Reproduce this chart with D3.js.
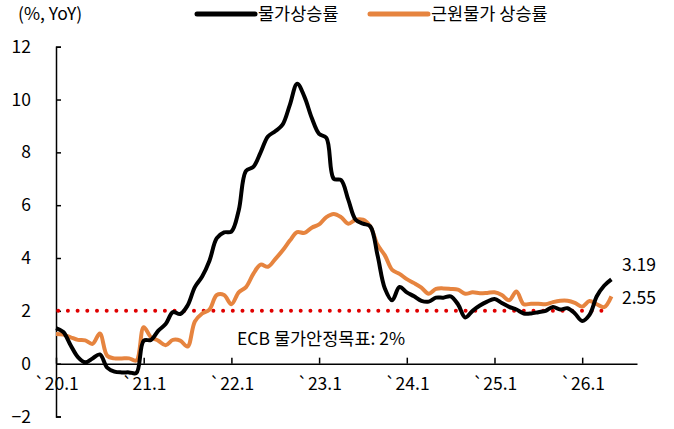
<!DOCTYPE html>
<html>
<head>
<meta charset="utf-8">
<script src="https://cdn.jsdelivr.net/npm/d3@7"></script>
<style>
	body { margin: 0; background: #fff; }
	text { font-family: "Noto Sans CJK KR", "Noto Sans", sans-serif; fill: #000; }
</style>
</head>
<body>
<div id="chart"></div>
<script>
//Monthly values from '20.1

var yearLabels = ["`20.1", "`21.1", "`22.1", "`23.1", "`24.1", "`25.1", "`26.1"];
var yTicks = [-2, 0, 2, 4, 6, 8, 10, 12];

var headline = [1.35, 1.2, 0.7, 0.25, 0.05, 0.2, 0.35, -0.15, -0.3, -0.33, -0.33, -0.35,
	0.87, 0.9, 1.25, 1.5, 1.95, 1.88, 2.2, 2.9, 3.3, 3.9, 4.75, 4.97,
	5.0, 5.8, 7.3, 7.45, 8.0, 8.6, 8.8, 9.05, 9.8, 10.6, 10.1, 9.3,
	8.7, 8.55, 7.0, 6.95, 6.2, 5.45, 5.3, 5.2, 4.1, 2.85, 2.4, 2.9,
	2.7, 2.55, 2.38, 2.35, 2.5, 2.5, 2.55, 2.25, 1.75, 2.0, 2.2, 2.35,
	2.45, 2.3, 2.15, 2.05, 1.9, 1.9, 1.95, 2.0, 2.15, 2.05, 2.1, 1.9,
	1.62, 1.85, 2.55, 2.95, 3.19];

var core = [1.12, 1.1, 1.0, 0.9, 0.88, 0.75, 1.14, 0.3, 0.2, 0.2, 0.2, 0.12,
	1.38, 1.0, 0.87, 0.7, 0.9, 0.87, 0.65, 1.6, 1.9, 2.05, 2.6, 2.6,
	2.25, 2.7, 2.9, 3.4, 3.75, 3.67, 3.96, 4.28, 4.66, 4.98, 4.95, 5.15,
	5.27, 5.55, 5.67, 5.55, 5.3, 5.45, 5.45, 5.2, 4.5, 4.1, 3.55, 3.4,
	3.2, 3.05, 2.88, 2.65, 2.83, 2.85, 2.83, 2.8, 2.65, 2.7, 2.67, 2.68,
	2.7, 2.6, 2.4, 2.73, 2.25, 2.27, 2.27, 2.25, 2.33, 2.38, 2.38, 2.3,
	2.16, 2.37, 2.25, 2.14, 2.55];

var target = 2;
var monthSlots = 79.5;

var seriesNames = ["물가상승률", "근원물가 상승률"];
var colors = ["#000000", "#E6843F"];

var width = 674, height = 429;
var fontSize = "17.5px";

var svg = d3.select("#chart")
	.append("svg")
	.attr("width", width)
	.attr("height", height);

//Month index to x, first month sits on the y-axis
var x = d3.scaleLinear()
	.domain([0, monthSlots])
	.range([56, 637]);

var y = d3.scaleLinear()
	.domain([-2, 12])
	.range([416.5, 46.7]);

//Y-axis with ticks pointing inwards
svg.append("g")
	.attr("transform", "translate(" + x(0) + ",0)")
	.call(d3.axisLeft(y).tickValues(yTicks).tickSizeInner(-5).tickSizeOuter(-5).tickPadding(25))
	.call(function(g){
		g.selectAll("path, line").attr("stroke", "#000").attr("stroke-width", 1.5);
		g.selectAll("text").style("font-size", fontSize);
	});

//X-axis drawn on the zero line
svg.append("g")
	.attr("transform", "translate(0," + y(0) + ")")
	.call(d3.axisBottom(x)
		.tickValues(d3.range(0, 84, 12))
		.tickFormat(function(d, i){ return yearLabels[i]; })
		.tickSizeInner(-6).tickSizeOuter(0).tickPadding(14))
	.call(function(g){
		g.selectAll("path, line").attr("stroke", "#000").attr("stroke-width", 1.5);
		g.selectAll("text").style("font-size", fontSize);
	});

//Target line
svg.append("line")
	.attr("x1", x(0.3))
	.attr("x2", x(headline.length - 1.6))
	.attr("y1", y(target))
	.attr("y2", y(target))
	.attr("stroke", "#E00000")
	.attr("stroke-width", 4)
	.attr("stroke-linecap", "round")
	.attr("stroke-dasharray", "0,9.7");

svg.append("text")
	.attr("x", 237)
	.attr("y", y(target) + 34)
	.style("font-size", fontSize)
	.text("ECB 물가안정목표: 2%");

var line = d3.line()
	.x(function(d, i){ return x(i); })
	.y(function(d){ return y(d); })
	.curve(d3.curveCatmullRom.alpha(0.5));

[core, headline].forEach(function(s, k){
	svg.append("path")
		.datum(s)
		.attr("fill", "none")
		.attr("stroke", k == 0 ? colors[1] : colors[0])
		.attr("stroke-width", 4)
		.attr("stroke-linejoin", "round")
		.attr("d", line);
});

//End labels
svg.append("text")
	.attr("x", 622)
	.attr("y", y(headline[headline.length - 1]) - 15)
	.attr("dy", "0.35em")
	.style("font-size", fontSize)
	.text(headline[headline.length - 1].toFixed(2));

svg.append("text")
	.attr("x", 622)
	.attr("y", y(core[core.length - 1]) + 2)
	.attr("dy", "0.35em")
	.style("font-size", fontSize)
	.text(core[core.length - 1].toFixed(2));

//Unit and legend
svg.append("text")
	.attr("x", 18)
	.attr("y", 14)
	.attr("dy", "0.35em")
	.style("font-size", fontSize)
	.text("(%, YoY)");

var legendX = [197, 370];
seriesNames.forEach(function(name, i){
	svg.append("line")
		.attr("x1", legendX[i])
		.attr("x2", legendX[i] + 58)
		.attr("y1", 14)
		.attr("y2", 14)
		.attr("stroke", colors[i])
		.attr("stroke-width", 5)
		.attr("stroke-linecap", "round");
	svg.append("text")
		.attr("x", legendX[i] + 61)
		.attr("y", 14)
		.attr("dy", "0.35em")
		.style("font-size", fontSize)
		.text(name);
});
</script>
</body>
</html>
